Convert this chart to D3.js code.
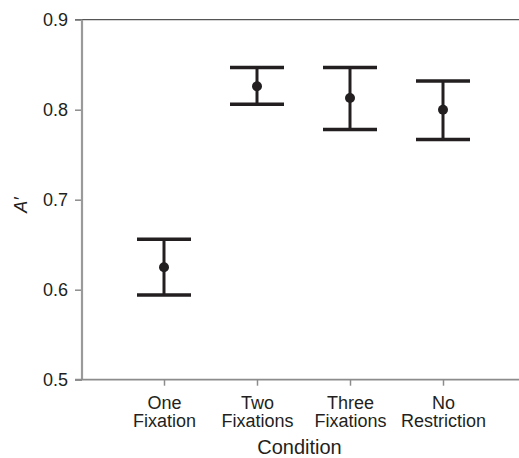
<!DOCTYPE html>
<html>
<head>
<meta charset="utf-8">
<script src="https://cdn.jsdelivr.net/npm/d3@7"></script>
<style>
  body { margin: 0; background: #fff; }
  text { font-family: "Liberation Sans", Arial, Helvetica, sans-serif; fill: #231f20; }
</style>
</head>
<body>
<div id="chart"></div>
<script>
// data
var conditions = ["One\nFixation", "Two\nFixations", "Three\nFixations", "No\nRestriction"];
var means = [0.625, 0.826, 0.813, 0.800];
var upper = [0.656, 0.847, 0.847, 0.832];
var lower = [0.594, 0.806, 0.778, 0.767];
var yTicks = [0.5, 0.6, 0.7, 0.8, 0.9];

var W = 519, H = 458;
var plotLeft = 82, plotTop = 19.7, plotBottom = 379.7;
var ink = "#231f20";
var axisGrey = "#8c8c8c";

var svg = d3.select("#chart").append("svg")
    .attr("width", W)
    .attr("height", H);

var y = d3.scaleLinear().domain([0.5, 0.9]).range([plotBottom, plotTop]);
var x = d3.scalePoint().domain(conditions).range([164, 443]);

// top border line
svg.append("line")
    .attr("x1", plotLeft - 7).attr("x2", W)
    .attr("y1", y(0.9)).attr("y2", y(0.9))
    .attr("stroke", "#555").attr("stroke-width", 1.2);

// y axis
var yAxis = svg.append("g")
    .attr("transform", "translate(" + plotLeft + ",0)")
    .call(d3.axisLeft(y).tickValues(yTicks).tickSize(7).tickPadding(7).tickFormat(d3.format(".1f")));
yAxis.select(".domain").remove();
yAxis.selectAll(".tick line").attr("stroke", axisGrey).attr("stroke-width", 1.5);
yAxis.selectAll(".tick text")
    .style("font-size", "18px")
    .attr("fill", ink);
svg.append("line")
    .attr("x1", plotLeft).attr("x2", plotLeft)
    .attr("y1", plotTop).attr("y2", plotBottom)
    .attr("stroke", "#9a9a9a").attr("stroke-width", 2.2);

// x axis
var xAxis = svg.append("g")
    .attr("transform", "translate(0," + plotBottom + ")")
    .call(d3.axisBottom(x).tickSize(6).tickFormat(""));
xAxis.select(".domain").remove();
xAxis.selectAll(".tick line").attr("stroke", axisGrey).attr("stroke-width", 1.5);
svg.append("line")
    .attr("x1", plotLeft - 7).attr("x2", W)
    .attr("y1", plotBottom).attr("y2", plotBottom)
    .attr("stroke", axisGrey).attr("stroke-width", 1.8);

// two-line category labels
xAxis.selectAll(".tick").each(function(d) {
  var t = d3.select(this).append("text")
      .attr("text-anchor", "middle")
      .style("font-size", "18px")
      .attr("fill", ink);
  d.split("\n").forEach(function(part, i) {
    t.append("tspan").attr("x", 0).attr("y", 29 + i * 18.5).text(part);
  });
});

// axis titles
svg.append("text")
    .attr("x", (plotLeft + W) / 2 - 1)
    .attr("y", 454)
    .attr("text-anchor", "middle")
    .style("font-size", "20px")
    .text("Condition");

svg.append("text")
    .attr("transform", "translate(27,205) rotate(-90)")
    .attr("text-anchor", "middle")
    .style("font-size", "18px")
    .style("font-style", "italic")
    .text("A\u2032");

// error bars
var bars = svg.append("g").attr("class", "bars")
  .selectAll("g")
  .data(conditions)
  .join("g");

var capHalf = 27;
bars.append("line")
    .attr("x1", d => x(d)).attr("x2", d => x(d))
    .attr("y1", (d, i) => y(upper[i])).attr("y2", (d, i) => y(lower[i]))
    .attr("stroke", ink).attr("stroke-width", 3);
bars.append("line")
    .attr("x1", d => x(d) - capHalf).attr("x2", d => x(d) + capHalf)
    .attr("y1", (d, i) => y(upper[i])).attr("y2", (d, i) => y(upper[i]))
    .attr("stroke", ink).attr("stroke-width", 3.5);
bars.append("line")
    .attr("x1", d => x(d) - capHalf).attr("x2", d => x(d) + capHalf)
    .attr("y1", (d, i) => y(lower[i])).attr("y2", (d, i) => y(lower[i]))
    .attr("stroke", ink).attr("stroke-width", 3.5);
bars.append("circle")
    .attr("cx", d => x(d))
    .attr("cy", (d, i) => y(means[i]))
    .attr("r", 5)
    .attr("fill", ink);
</script>
</body>
</html>
